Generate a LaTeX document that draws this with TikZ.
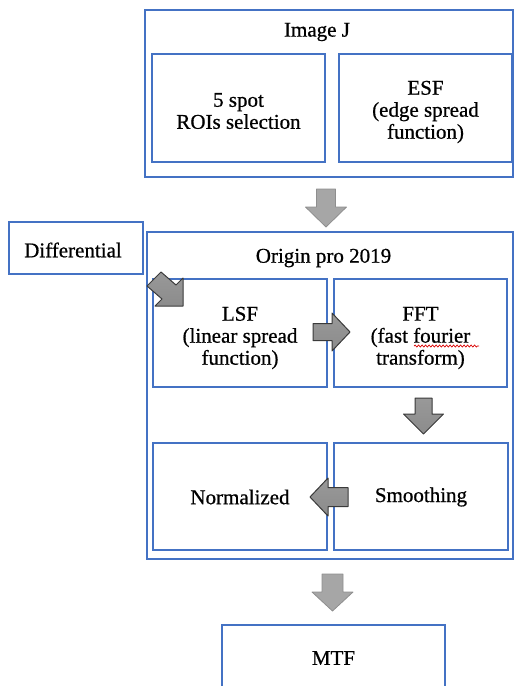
\documentclass[tikz,border=0pt]{standalone}
\usepackage{fontspec}
\setmainfont{Liberation Serif}[UprightFeatures={FakeBold=0.7}]
\usetikzlibrary{decorations.pathmorphing}
\definecolor{boxblue}{HTML}{4472C4}
\definecolor{lightfill}{HTML}{A6A6A6}
\definecolor{lightline}{HTML}{8E8E8E}
\definecolor{darkfill}{HTML}{7F7F7F}
\definecolor{darkline}{HTML}{3A3A3A}
\begin{document}
\begin{tikzpicture}[x=1pt,y=-1pt,
  box/.style={draw=boxblue, line width=1.2pt, rectangle, inner sep=0pt},
  lbl/.style={font=\fontsize{21}{22}\selectfont, inner sep=0pt, align=center},
  lightarrow/.style={fill=lightfill, draw=lightline, line width=0.8pt, line join=round},
  darkarrow/.style={top color=darkfill!80, bottom color=darkfill!110!black, draw=darkline, line width=1pt, line join=round}]
\useasboundingbox (0,0) rectangle (516,686);
\clip (0,0) rectangle (516,686);

% Image J group
\node[box, minimum width=368pt, minimum height=167pt] (imagej) at (329,93.5) {};
\node[lbl] (imagejt) at (317,32) {Image J};
\node[box, minimum width=173pt, minimum height=108pt] (roi) at (238.5,108) {};
\node[lbl] (roit) at ([yshift=-3pt]roi.center) {5 spot\\ROIs selection};
\node[box, minimum width=173pt, minimum height=108pt] (esf) at (425.5,108) {};
\node[lbl] (esft) at ([yshift=-4pt]esf.center) {ESF\\(edge spread\\function)};

% Differential
\node[box, minimum width=134pt, minimum height=52pt] (diff) at (76,248) {};
\node[lbl] (difft) at (73,250) {Differential};

% Origin pro group
\node[box, minimum width=366pt, minimum height=327pt] (origin) at (330,395.5) {};
\node[lbl] (origint) at (323.5,258) {Origin pro 2019};
\node[box, minimum width=174pt, minimum height=108pt] (lsf) at (240,333) {};
\node[lbl] (lsft) at ([yshift=-5pt]lsf.center) {LSF\\(linear spread\\function)};
\node[box, minimum width=173pt, minimum height=108pt] (fft) at (420.5,333) {};
\node[lbl] (fftt) at ([yshift=-5pt]fft.center) {FFT\\(fast fourier\\transform)};
\node[box, minimum width=174pt, minimum height=107pt] (norm) at (240,496.5) {};
\node[lbl] (normt) at (240,497) {Normalized};
\node[box, minimum width=174pt, minimum height=107pt] (smooth) at (421,496.5) {};
\node[lbl] (smootht) at (421,497) {Smoothing};

% MTF
\node[box, minimum width=223pt, minimum height=66pt] (mtf) at (333.5,658) {};
\node[lbl] (mtft) at (333.5,658) {MTF};

% spell-check squiggle under "fourier"
\coordinate (sq1) at (414,346);
\coordinate (sq2) at (479,346);
\draw[red!85!black, line width=0.7pt, decorate, decoration={snake, segment length=3.5pt, amplitude=1pt}] (sq1) -- (sq2);

% light block arrows
\coordinate (a1) at (326,189);
\draw[lightarrow, shift={(a1)}] (-9.5,0) -- (9.5,0) -- (9.5,18) -- (20.5,18) -- (0,38) -- (-20.5,18) -- (-9.5,18) -- cycle;
\coordinate (a2) at (332.5,574);
\draw[lightarrow, shift={(a2)}] (-10.5,0) -- (10.5,0) -- (10.5,18) -- (20.5,18) -- (0,37) -- (-20.5,18) -- (-10.5,18) -- cycle;

% dark block arrows
\coordinate (a3) at (313,332);
\draw[darkarrow, shift={(a3)}] (0,-8.5) -- (19,-8.5) -- (19,-19) -- (37,0) -- (19,19) -- (19,8.5) -- (0,8.5) -- cycle;
\coordinate (a4) at (423.5,398);
\draw[darkarrow, shift={(a4)}] (-8.5,0) -- (8.5,0) -- (8.5,16) -- (20,16) -- (0,36) -- (-20,16) -- (-8.5,16) -- cycle;
\coordinate (a5) at (348,497);
\draw[darkarrow, shift={(a5)}] (0,-9.5) -- (-20,-9.5) -- (-20,-19) -- (-38,0) -- (-20,19) -- (-20,9.5) -- (0,9.5) -- cycle;
\coordinate (a6) at (154,279);
\draw[darkarrow, shift={(a6)}] (7,-7) -- (22,6) -- (29,-1) -- (29,27) -- (1,27) -- (8,20) -- (-7,7) -- cycle;
\end{tikzpicture}
\end{document}
